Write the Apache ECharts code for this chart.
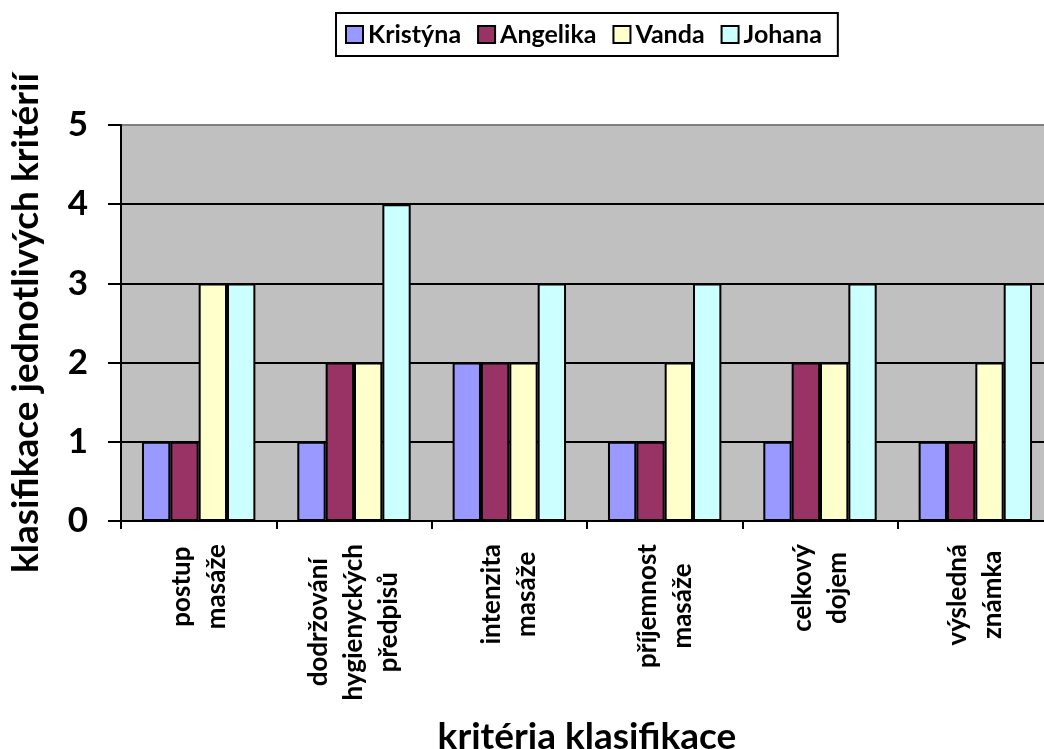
<!DOCTYPE html>
<html>
<head>
<meta charset="utf-8">
<script src="https://cdn.jsdelivr.net/npm/echarts@6/dist/echarts.min.js"></script>
<style>
  html, body { margin: 0; padding: 0; background: #fff; }
  #chart { width: 1044px; height: 749px; }
</style>
</head>
<body>
<div id="chart"></div>
<script>
// kategorie (řádky popisků oddělené \n)
const categories = [
  'postup\nmasáže',
  'dodržování\nhygienyckých\npředpisů',
  'intenzita\nmasáže',
  'příjemnost\nmasáže',
  'celkový\ndojem',
  'výsledná\nznámka'
];
const kristyna = [1, 1, 2, 1, 1, 1];
const angelika = [1, 2, 2, 1, 2, 1];
const vanda    = [3, 2, 2, 2, 2, 2];
const johana   = [3, 4, 3, 3, 3, 3];

const FONT = 'Lato';
const chart = echarts.init(document.getElementById('chart'));

function bar(name, data, color) {
  return {
    name: name, type: 'bar', data: data,
    barGap: '0%', barCategoryGap: '27%',
    itemStyle: { color: color, borderColor: '#000', borderWidth: 2 }
  };
}

const option = {
  animation: false,
  textStyle: { fontFamily: FONT, fontWeight: 'bold', color: '#000' },
  legend: {
    left: 336, top: 13,
    padding: [9, 16, 9, 9],
    borderColor: '#000', borderWidth: 2,
    itemWidth: 17, itemHeight: 17, itemGap: 16,
    icon: 'rect',
    itemStyle: { borderColor: '#000', borderWidth: 2 },
    textStyle: { fontFamily: FONT, fontWeight: 'bold', fontSize: 25, color: '#000' }
  },
  grid: {
    left: 121, top: 125, width: 932, height: 396,
    outerBoundsMode: 'none',
    show: true, backgroundColor: '#C0C0C0', borderWidth: 0
  },
  xAxis: {
    type: 'category',
    data: categories,
    name: 'kritéria klasifikace',
    nameLocation: 'middle', nameGap: 198,
    nameTextStyle: { fontFamily: FONT, fontWeight: 'bold', fontSize: 37, color: '#000' },
    axisLine: { lineStyle: { color: '#000', width: 2 } },
    axisTick: { show: true, length: 8, lineStyle: { color: '#000', width: 2 } },
    axisLabel: {
      rotate: 90, margin: 23, interval: 0,
      formatter: function (v) {
        return v.split('\n').map(function (l) { return '{c|' + l + '}'; }).join('\n');
      },
      rich: {
        c: { align: 'center', fontFamily: FONT, fontWeight: 'bold', fontSize: 26, lineHeight: 35, color: '#000' }
      }
    },
    splitLine: { show: false }
  },
  yAxis: {
    type: 'value',
    min: 0, max: 5, interval: 1,
    name: 'klasifikace jednotlivých kritérií',
    nameLocation: 'middle', nameGap: 76,
    nameTextStyle: { fontFamily: FONT, fontWeight: 'bold', fontSize: 37, color: '#000' },
    axisLine: { show: true, lineStyle: { color: '#000', width: 2 } },
    axisTick: { show: true, length: 13, lineStyle: { color: '#000', width: 2 } },
    axisLabel: { margin: 33, fontFamily: FONT, fontWeight: 'bold', fontSize: 35, color: '#000' },
    splitLine: {
      show: true,
      lineStyle: { color: ['#000', '#000', '#000', '#000', '#000', '#808080'], width: 2 }
    }
  },
  series: [
    bar('Kristýna', kristyna, '#9999FF'),
    bar('Angelika', angelika, '#993366'),
    bar('Vanda', vanda, '#FFFFCC'),
    bar('Johana', johana, '#CCFFFF')
  ]
};

chart.setOption(option);
</script>
</body>
</html>
